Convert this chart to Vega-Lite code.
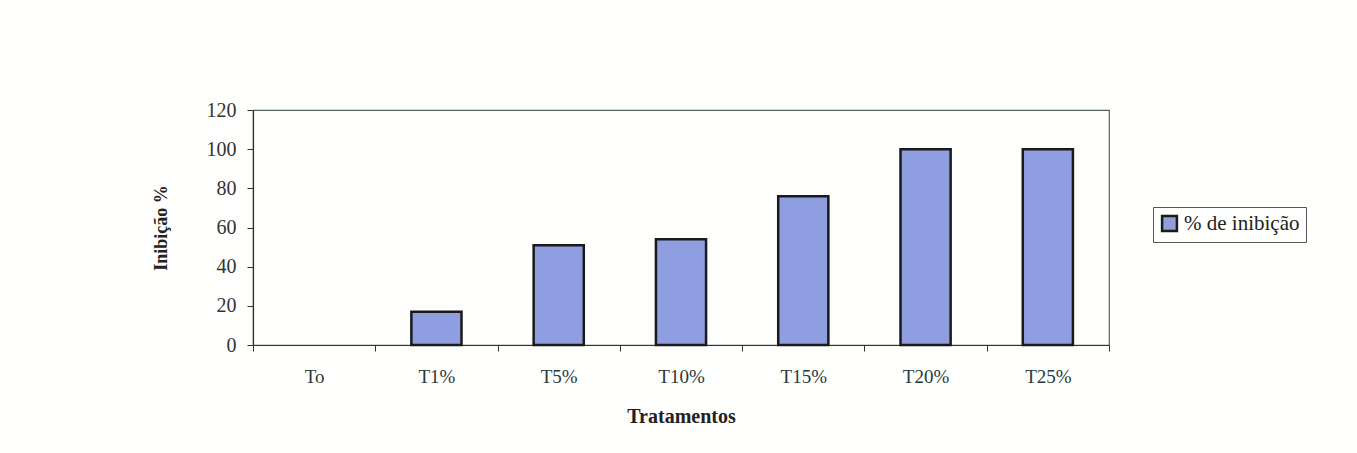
{
  "$schema": "https://vega.github.io/schema/vega-lite/v6.json",
  "autosize": "none",
  "width": 856,
  "height": 235,
  "padding": {"left": 253, "top": 110, "right": 248, "bottom": 108},
  "background": "#fefefc",
  "data": {
    "values": [
      {"tratamento": "To", "inibicao": 0, "serie": "% de inibição"},
      {"tratamento": "T1%", "inibicao": 17, "serie": "% de inibição"},
      {"tratamento": "T5%", "inibicao": 51, "serie": "% de inibição"},
      {"tratamento": "T10%", "inibicao": 54, "serie": "% de inibição"},
      {"tratamento": "T15%", "inibicao": 76, "serie": "% de inibição"},
      {"tratamento": "T20%", "inibicao": 100, "serie": "% de inibição"},
      {"tratamento": "T25%", "inibicao": 100, "serie": "% de inibição"}
    ]
  },
  "mark": {"type": "bar", "stroke": "#1a1a1a", "width": {"band": 0.41}},
  "encoding": {
    "x": {
      "field": "tratamento",
      "type": "nominal",
      "sort": null,
      "scale": {"paddingInner": 0, "paddingOuter": 0},
      "axis": {
        "title": "Tratamentos",
        "titleFont": "Liberation Serif",
        "titleFontSize": 20,
        "titleFontWeight": "bold",
        "titleColor": "#222",
        "titlePadding": 20,
        "labelFont": "Liberation Serif",
        "labelFontSize": 19,
        "labelColor": "#2a3a3a",
        "labelAngle": 0,
        "labelPadding": 16,
        "tickBand": "extent",
        "tickSize": 6,
        "tickColor": "#333",
        "domainColor": "#333",
        "domainWidth": 1.2
      }
    },
    "y": {
      "field": "inibicao",
      "type": "quantitative",
      "scale": {"domain": [0, 120], "nice": false},
      "axis": {
        "values": [0, 20, 40, 60, 80, 100, 120],
        "grid": false,
        "title": "Inibição %",
        "titleFont": "Liberation Serif",
        "titleFontSize": 18,
        "titleFontWeight": "bold",
        "titleColor": "#222",
        "titlePadding": 36,
        "labelFont": "Liberation Serif",
        "labelFontSize": 20,
        "labelColor": "#333",
        "labelPadding": 11,
        "tickSize": 6,
        "tickColor": "#333",
        "domainColor": "#333",
        "domainWidth": 1.2
      }
    },
    "strokeWidth": {
      "condition": {"test": "datum.inibicao == 0", "value": 0},
      "value": 2.5
    },
    "color": {
      "field": "serie",
      "type": "nominal",
      "scale": {"range": ["#8e9ee0"]},
      "legend": {
        "title": null,
        "orient": "none",
        "legendX": 900,
        "legendY": 97,
        "symbolType": "square",
        "symbolSize": 220,
        "symbolStrokeColor": "#1a1a1a",
        "symbolStrokeWidth": 2.5,
        "labelFont": "Liberation Serif",
        "labelFontSize": 21,
        "labelColor": "#222",
        "labelLimit": 300,
        "strokeColor": "#555",
        "padding": 6
      }
    }
  },
  "config": {
    "view": {"stroke": "#556655", "strokeWidth": 1.2}
  }
}
